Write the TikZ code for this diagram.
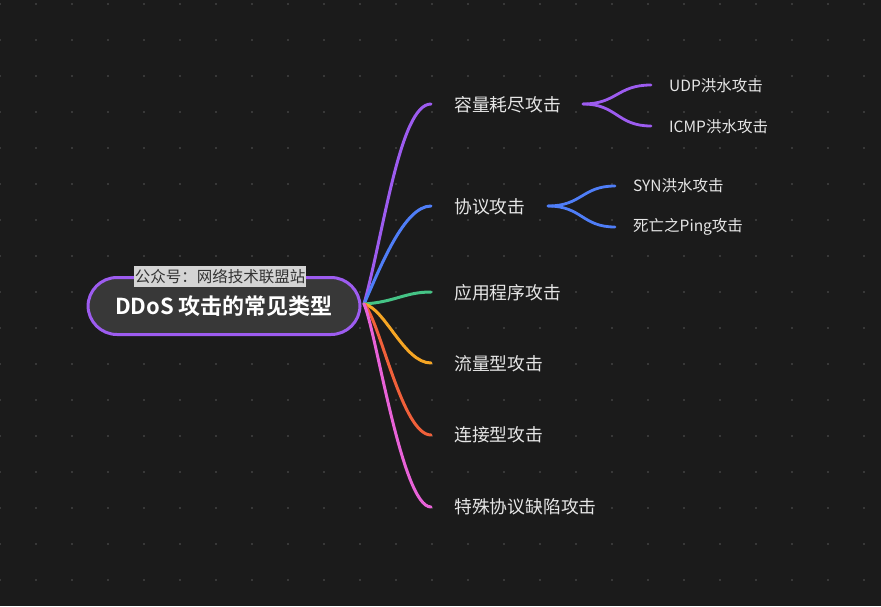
\documentclass[tikz,border=0pt]{standalone}
\usepackage{fontspec}
\setmainfont{Noto Sans CJK SC}[BoldFont={Noto Sans CJK SC Bold}]
\usetikzlibrary{calc}
\definecolor{bg}{HTML}{1B1B1B}
\definecolor{dotc}{HTML}{383838}
\definecolor{txt}{HTML}{E6E6E6}
\definecolor{rootfill}{HTML}{383838}
\definecolor{cpurple}{HTML}{9D5CF0}
\definecolor{cblue}{HTML}{4F7EF8}
\definecolor{cgreen}{HTML}{45C486}
\definecolor{corange}{HTML}{F5A524}
\definecolor{cred}{HTML}{F0603A}
\definecolor{cpink}{HTML}{E862D8}
\definecolor{wmbg}{HTML}{D4D4D4}
\definecolor{wmtxt}{HTML}{333333}
\begin{document}
\begin{tikzpicture}[x=1pt,y=-1pt,
  mainlabel/.style={anchor=west,text=txt,font=\fontsize{17.8}{20}\selectfont,inner sep=0pt},
  sublabel/.style={anchor=west,text=txt,font=\fontsize{15.5}{18}\selectfont,inner sep=0pt},
  branch/.style={line width=3pt,line cap=round},
  twig/.style={line width=2.8pt,line cap=round}]
\fill[bg] (0,0) rectangle (881,606);
\useasboundingbox (0,0) rectangle (881,606);
% dot grid
\foreach \i in {0,...,24}{
  \foreach \j in {0,...,16}{
    \fill[dotc] ({36*\i-0.8},{36*\j+4-0.8}) rectangle ++(1.6,1.6);
  }
}
% root
\node[draw=cpurple,line width=3pt,fill=rootfill,rounded corners=29pt,
  minimum width=272pt,minimum height=57pt,inner sep=0pt,text=white,
  font=\fontsize{22}{24}\selectfont\bfseries] (root) at (224,306) {DDoS 攻击的常见类型};
\node[fill=wmbg,text=wmtxt,inner xsep=1pt,inner ysep=0pt,minimum height=21pt,
  font=\fontsize{15.5}{18}\selectfont] (wm) at (220,276.5) {公众号：网络技术联盟站};
\coordinate (o) at (364,304);
% main branches
\node[mainlabel] (a) at (454,105) {容量耗尽攻击};
\node[mainlabel] (b) at (454,207) {协议攻击};
\node[mainlabel] (c) at (454,293) {应用程序攻击};
\node[mainlabel] (d) at (454,364) {流量型攻击};
\node[mainlabel] (e) at (454,435) {连接型攻击};
\node[mainlabel] (f) at (454,507) {特殊协议缺陷攻击};
\coordinate (ae) at (431,104);
\coordinate (be) at (431,206);
\coordinate (ce) at (431,292);
\coordinate (de) at (431,363);
\coordinate (ee) at (431,435);
\coordinate (fe) at (431,507);
\draw[branch,cpurple] (o) .. controls (384,232) and (400,104) .. (ae);
\draw[branch,cblue] (o) .. controls (380,268) and (404,206) .. (be);
\draw[branch,cgreen] (o) .. controls (395,302) and (405,292) .. (ce);
\draw[branch,corange] (o) .. controls (385,308) and (404,363) .. (de);
\draw[branch,cred] (o) .. controls (380,320) and (402,435) .. (ee);
\draw[branch,cpink] (o) .. controls (376,330) and (402,507) .. (fe);
% sub branches
\node[sublabel] (a1) at (669,86) {UDP洪水攻击};
\node[sublabel] (a2) at (669,127) {ICMP洪水攻击};
\node[sublabel] (b1) at (633,186) {SYN洪水攻击};
\node[sublabel] (b2) at (633,227) {死亡之Ping攻击};
\coordinate (as) at (583,104);
\coordinate (a1e) at (651,85);
\coordinate (a2e) at (651,126);
\coordinate (bs) at (548,206);
\coordinate (b1e) at (615,186);
\coordinate (b2e) at (615,227);
\draw[twig,cpurple] (as) .. controls (617,104) and (617,85) .. (a1e);
\draw[twig,cpurple] (as) .. controls (617,104) and (617,126) .. (a2e);
\draw[twig,cblue] (bs) .. controls (582,206) and (582,186) .. (b1e);
\draw[twig,cblue] (bs) .. controls (582,206) and (582,227) .. (b2e);
\end{tikzpicture}
\end{document}
